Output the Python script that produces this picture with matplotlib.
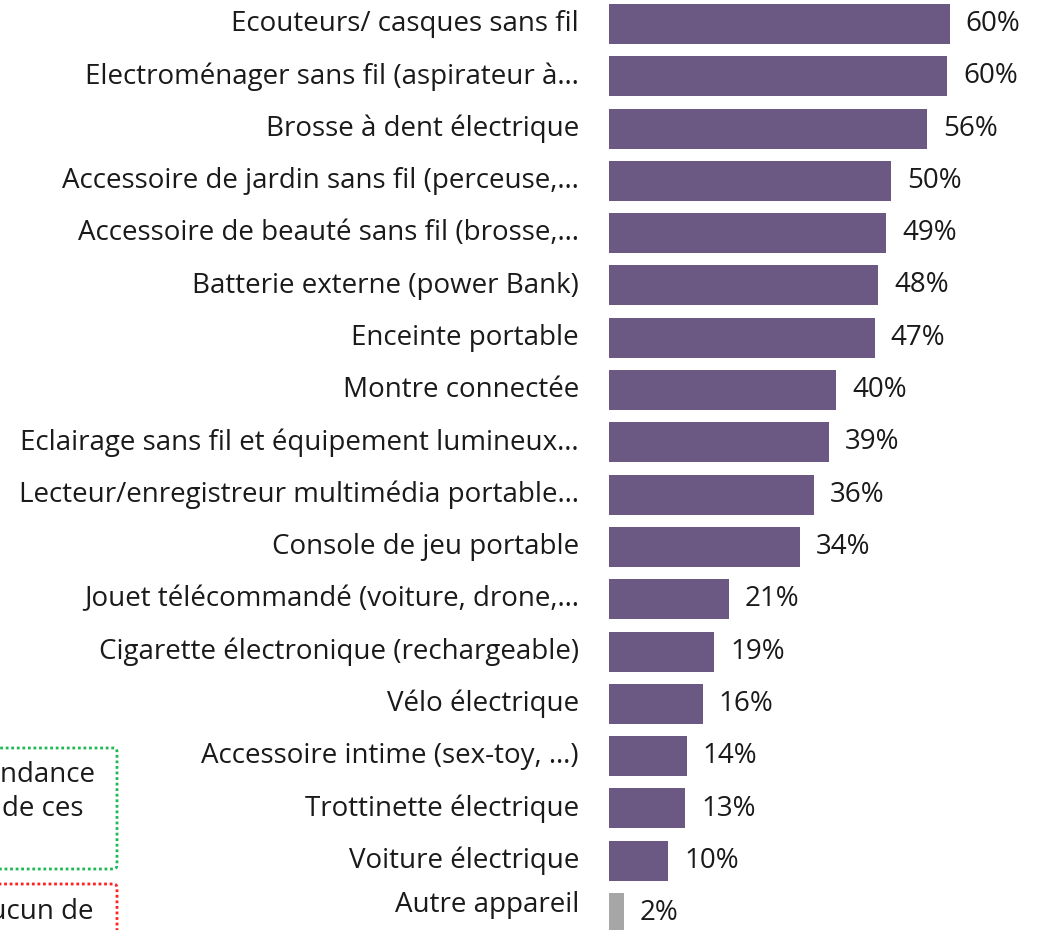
import matplotlib
matplotlib.use("Agg")
import matplotlib.pyplot as plt
from matplotlib.patches import FancyBboxPatch

categories = [
    "Ecouteurs/ casques sans fil",
    "Electroménager sans fil (aspirateur à…",
    "Brosse à dent électrique",
    "Accessoire de jardin sans fil (perceuse,…",
    "Accessoire de beauté sans fil (brosse,…",
    "Batterie externe (power Bank)",
    "Enceinte portable",
    "Montre connectée",
    "Eclairage sans fil et équipement lumineux…",
    "Lecteur/enregistreur multimédia portable…",
    "Console de jeu portable",
    "Jouet télécommandé (voiture, drone,…",
    "Cigarette électronique (rechargeable)",
    "Vélo électrique",
    "Accessoire intime (sex-toy, …)",
    "Trottinette électrique",
    "Voiture électrique",
    "Autre appareil",
]
values = [60.0, 59.5, 56.0, 49.6, 48.8, 47.4, 46.8, 40.0, 38.7, 36.1,
          33.6, 21.1, 18.5, 16.5, 13.7, 13.4, 10.4, 2.6]
value_labels = ["60%", "60%", "56%", "50%", "49%", "48%", "47%", "40%", "39%",
                "36%", "34%", "21%", "19%", "16%", "14%", "13%", "10%", "2%"]
bar_colors = ["#6b5883"] * 17 + ["#a6a6a6"]

legend_green_lines = ["abondance", "de ces"]
legend_red_lines = ["aucun de"]

FONT = "Open Sans"
FS = 20
W, H = 1051, 930
fig = plt.figure(figsize=(W / 100, H / 100), dpi=100)

px_per_pct = 5.68
x0 = 609
row = 52.3
c0 = 24
ax = fig.add_axes([x0 / W, 0, 1 - x0 / W, 1])
ax.set_xlim(0, (W - x0) / px_per_pct)
ax.set_ylim((H - c0) / row, -c0 / row)
ax.axis("off")

ys = list(range(len(categories)))
ax.barh(ys, values, height=40 / row, color=bar_colors, left=0)
n = len(categories)
for y, v, lab, cat in zip(ys, values, value_labels, categories):
    ax.text(v + 16 / px_per_pct, y, lab, ha="left", va="center",
            fontsize=FS, family=FONT, color="#1a1a1a")
    dy = -8 / row if y == n - 1 else 0
    ax.text(-30 / px_per_pct, y + dy, cat, ha="right", va="center",
            fontsize=FS, family=FONT, color="#1a1a1a", clip_on=False)

# partially visible boxes on the left
green = FancyBboxPatch((-60 / W, 1 - 869 / H), (177) / W, (869 - 748) / H,
                       boxstyle="round,pad=0,rounding_size=0.004",
                       transform=fig.transFigure, fill=False,
                       edgecolor="#1db954", linestyle=(0, (1, 1)), linewidth=2)
fig.patches.append(green)
red = FancyBboxPatch((-60 / W, 1 - 990 / H), (177) / W, (990 - 884) / H,
                     boxstyle="round,pad=0,rounding_size=0.004",
                     transform=fig.transFigure, fill=False,
                     edgecolor="#ff2020", linestyle=(0, (1, 1)), linewidth=2)
fig.patches.append(red)

for i, t in enumerate(legend_green_lines):
    fig.text((96 if i == 0 else 83) / W, 1 - (775 + 34 * i) / H, t,
             ha="right", va="center", fontsize=FS, family=FONT, color="#1a1a1a")
for i, t in enumerate(legend_red_lines):
    fig.text(93 / W, 1 - (912 + 34 * i) / H, t,
             ha="right", va="center", fontsize=FS, family=FONT, color="#1a1a1a")

fig.savefig("out.png", dpi=100)
